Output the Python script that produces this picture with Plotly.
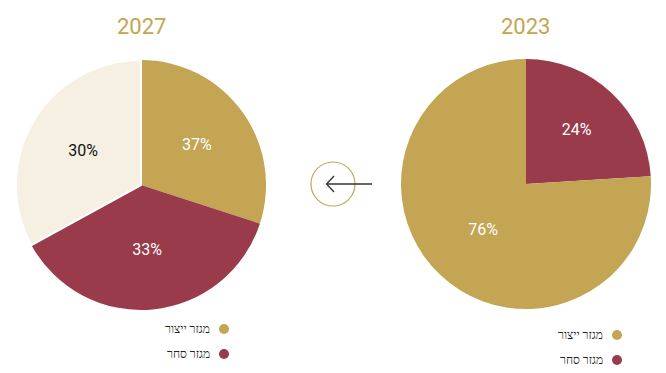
import plotly.graph_objects as go

W, H = 666, 373

# ---- data ----
sectors = ["מגזר ייצור", "מגזר סחר", "מגזר שירותים"]
colors = ["#C4A553", "#993B4B", "#F6F0E2"]

# 2027: slice sizes as drawn, and the labels printed on them
slices_2027 = [30, 37, 33]
labels_2027 = ["37%", "33%", "30%"]

# 2023
sectors_2023 = ["מגזר סחר", "מגזר ייצור"]
slices_2023 = [24, 76]
labels_2023 = ["24%", "76%"]
colors_2023 = ["#993B4B", "#C4A553"]

years = ["2027", "2023"]


def px(x):
    return x / W


def py(y):
    return 1 - y / H


fig = go.Figure()

fig.add_trace(go.Pie(
    values=slices_2027, labels=sectors, text=labels_2027,
    textinfo="text", sort=False, direction="clockwise", rotation=0,
    marker=dict(colors=colors, line=dict(color="white", width=[0, 0, 2])),
    textfont=dict(family="Roboto", size=16, color=["white", "white", "#111111"]),
    insidetextorientation="horizontal", textposition="inside",
    domain=dict(x=[px(16), px(266)], y=[py(310), py(60)]),
    showlegend=False, hoverinfo="none",
))

fig.add_trace(go.Pie(
    values=slices_2023, labels=sectors_2023, text=labels_2023,
    textinfo="text", sort=False, direction="clockwise", rotation=0,
    marker=dict(colors=colors_2023, line=dict(color="white", width=0)),
    textfont=dict(family="Roboto", size=16, color="white"),
    insidetextorientation="horizontal", textposition="inside",
    domain=dict(x=[px(401), px(651)], y=[py(309), py(59)]),
    showlegend=False, hoverinfo="none",
))

annotations = []
shapes = []

# titles
for yr, cx in zip(years, [141, 525]):
    annotations.append(dict(text=yr, x=px(cx), y=py(26), xref="paper", yref="paper",
                            showarrow=False, xanchor="center", yanchor="middle",
                            font=dict(family="Roboto", size=22, color="#C4A553")))

# legends (RTL: marker to the right of the text)
def legend(items, cols, mx, ys, visible_text):
    for name, col, yy, vis in zip(items, cols, ys, visible_text):
        r = 5
        shapes.append(dict(type="circle", xref="paper", yref="paper",
                           x0=px(mx - r), x1=px(mx + r), y0=py(yy + r), y1=py(yy - r),
                           fillcolor=col, line=dict(width=0)))
        if vis:
            annotations.append(dict(text=name, x=px(mx - 12), y=py(yy), xref="paper", yref="paper",
                                    showarrow=False, xanchor="right", yanchor="middle",
                                    font=dict(family="Roboto", size=12, color="#222222")))

# third 2027 entry sits below the visible area; only the top of its marker shows
legend(sectors, colors, 224, [329, 354, 378], [True, True, False])
legend(["מגזר ייצור", "מגזר סחר"], ["#C4A553", "#993B4B"], 617, [335, 360], [True, True])

# arrow in circle
shapes.append(dict(type="circle", xref="paper", yref="paper",
                   x0=px(311), x1=px(355), y0=py(206), y1=py(162),
                   line=dict(color="#C4A553", width=1.2), fillcolor="rgba(0,0,0,0)"))
shapes.append(dict(type="line", xref="paper", yref="paper",
                   x0=px(327), x1=px(372), y0=py(184), y1=py(184),
                   line=dict(color="#333333", width=1.3)))
shapes.append(dict(type="path", xref="paper", yref="paper",
                   path=f"M {px(334)},{py(176)} L {px(326.5)},{py(184)} L {px(334)},{py(192)}",
                   line=dict(color="#333333", width=1.3)))

fig.update_layout(
    width=W, height=H, margin=dict(l=0, r=0, t=0, b=0),
    paper_bgcolor="white", plot_bgcolor="white",
    annotations=annotations, shapes=shapes, showlegend=False,
)

fig.write_html("out.html", config={"displayModeBar": False},
               post_script="document.body.style.margin='0';document.body.style.overflow='hidden';")
